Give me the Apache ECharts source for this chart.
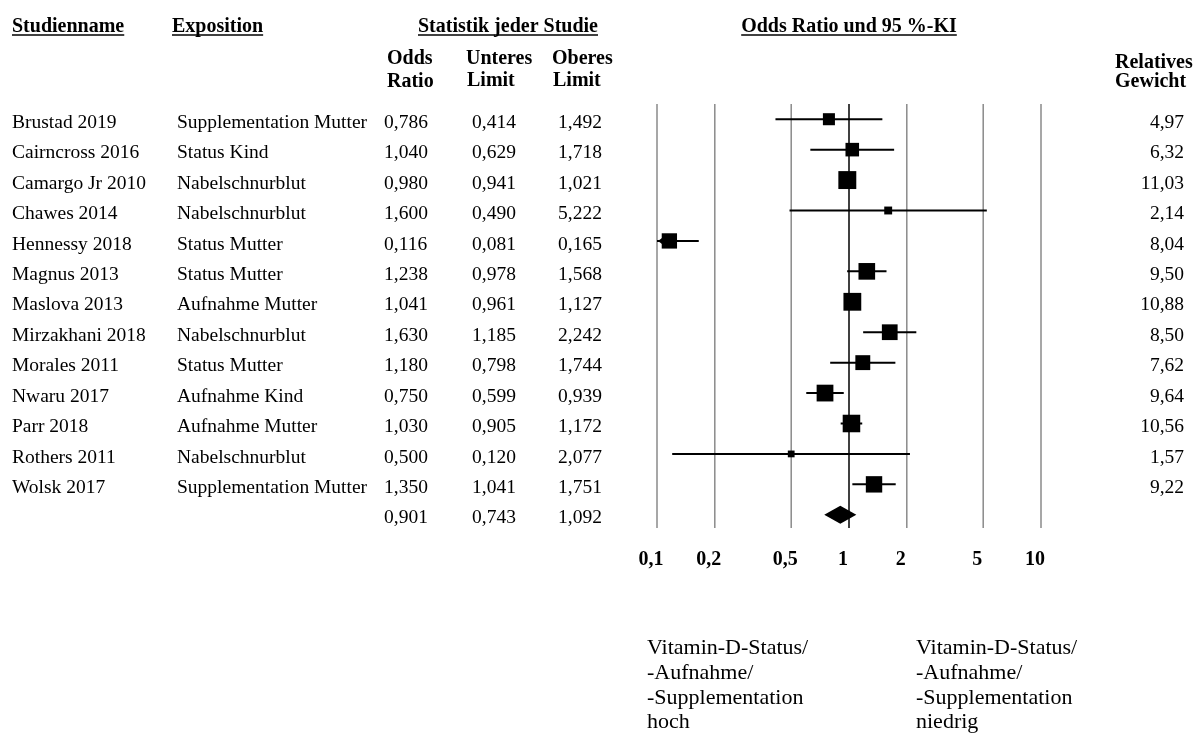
<!DOCTYPE html>
<html>
<head>
<meta charset="utf-8">
<script src="https://cdn.jsdelivr.net/npm/echarts@6/dist/echarts.min.js"></script>
<style>html,body{margin:0;padding:0;background:#fff;}#chart{width:1194px;height:736px;}</style>
</head>
<body>
<div id="chart"></div>
<script>
// ---- data ----
const studies = ['Brustad 2019','Cairncross 2016','Camargo Jr 2010','Chawes 2014','Hennessy 2018','Magnus 2013','Maslova 2013','Mirzakhani 2018','Morales 2011','Nwaru 2017','Parr 2018','Rothers 2011','Wolsk 2017'];
const exposition = ['Supplementation Mutter','Status Kind','Nabelschnurblut','Nabelschnurblut','Status Mutter','Status Mutter','Aufnahme Mutter','Nabelschnurblut','Status Mutter','Aufnahme Kind','Aufnahme Mutter','Nabelschnurblut','Supplementation Mutter'];
const oddsRatio = [0.786,1.040,0.980,1.600,0.116,1.238,1.041,1.630,1.180,0.750,1.030,0.500,1.350];
const lowerLimit = [0.414,0.629,0.941,0.490,0.081,0.978,0.961,1.185,0.798,0.599,0.905,0.120,1.041];
const upperLimit = [1.492,1.718,1.021,5.222,0.165,1.568,1.127,2.242,1.744,0.939,1.172,2.077,1.751];
const weights = [4.97,6.32,11.03,2.14,8.04,9.50,10.88,8.50,7.62,9.64,10.56,1.57,9.22];
const pooled = [0.901,0.743,1.092]; // OR, lower, upper
const xTicks = [0.1,0.2,0.5,1,2,5,10];

// ---- helpers ----
const FONT = '"Liberation Serif","Times New Roman",serif';
const fmt3 = v => v.toFixed(3).replace('.', ',');
const fmt2 = v => v.toFixed(2).replace('.', ',');
const fmtTick = v => String(v).replace('.', ',');
const measure = (t, font) => { const c = document.createElement('canvas').getContext('2d'); c.font = font; return c.measureText(t).width; };

const nRows = studies.length + 1;
const colNames = studies.concat(['']);
const colExpo = exposition.concat(['']);
const colOR = oddsRatio.concat([pooled[0]]).map(fmt3);
const colLo = lowerLimit.concat([pooled[1]]).map(fmt3);
const colHi = upperLimit.concat([pooled[2]]).map(fmt3);
const colW = weights.map(fmt2).concat(['']);

const seriesData = studies.map((s, i) => [oddsRatio[i], i, lowerLimit[i], upperLimit[i], weights[i], 0]);
seriesData.push([pooled[0], studies.length, pooled[1], pooled[2], 0, 1]);
const gridData = xTicks.map(v => [v, 0]);

const GRID = {left: 657, right: 153, top: 104, height: 426};

function colAxis(data, margin, align, position) {
  return {
    type: 'category', inverse: true, data: data,
    position: position || 'left', offset: 0,
    axisLine: {show: false}, axisTick: {show: false}, splitLine: {show: false},
    axisLabel: {interval: 0, margin: margin, align: align, verticalAlign: 'top', lineHeight: 7, fontFamily: FONT, fontSize: 19.5, color: '#000'}
  };
}

// ---- header graphics ----
const HFONT = 'bold 20px ' + FONT;
const graphics = [];
function header(text, x, y, align, underline) {
  graphics.push({type: 'text', x: x, y: y, style: {text: text, font: HFONT, fill: '#000', align: align, verticalAlign: 'middle', textAlign: align, textVerticalAlign: 'middle'}});
  if (underline) {
    const w = measure(text, HFONT);
    const x0 = align === 'center' ? x - w / 2 : (align === 'right' ? x - w : x);
    graphics.push({type: 'line', shape: {x1: x0, y1: y + 8, x2: x0 + w, y2: y + 8}, style: {stroke: '#000', lineWidth: 1.5}});
  }
}
header('Studienname', 12, 27, 'left', true);
header('Exposition', 172, 27, 'left', true);
header('Statistik jeder Studie', 508, 27, 'center', true);
header('Odds Ratio und 95 %-KI', 849, 27, 'center', true);
header('Odds', 387, 59, 'left', false);
header('Ratio', 387, 82, 'left', false);
header('Unteres', 466, 59, 'left', false);
header('Limit', 467, 81, 'left', false);
header('Oberes', 552, 59, 'left', false);
header('Limit', 553, 81, 'left', false);
header('Relatives', 1115, 63, 'left', false);
header('Gewicht', 1115, 82, 'left', false);

const BFONT = '22px ' + FONT;
graphics.push({type: 'text', x: 647, y: 636, style: {text: 'Vitamin-D-Status/\n-Aufnahme/\n-Supplementation\nhoch', font: BFONT, lineHeight: 24.7, fill: '#000', align: 'left', verticalAlign: 'top', textAlign: 'left', textVerticalAlign: 'top'}});
graphics.push({type: 'text', x: 916, y: 636, style: {text: 'Vitamin-D-Status/\n-Aufnahme/\n-Supplementation\nniedrig', font: BFONT, lineHeight: 24.7, fill: '#000', align: 'left', verticalAlign: 'top', textAlign: 'left', textVerticalAlign: 'top'}});

// ---- chart ----
const chart = echarts.init(document.getElementById('chart'), null, {renderer: 'canvas'});
chart.setOption({
  animation: false,
  backgroundColor: '#fff',
  grid: GRID,
  xAxis: {
    type: 'log', logBase: 10, min: 0.1, max: 10,
    axisLine: {show: false}, axisTick: {show: false}, splitLine: {show: false},
    axisLabel: {customValues: xTicks, formatter: v => fmtTick(v), fontFamily: FONT, fontWeight: 'bold', fontSize: 20, color: '#000', margin: 20, padding: [0, 12, 0, 0]}
  },
  yAxis: [
    colAxis(colNames, 657 - 12, 'left'),
    colAxis(colExpo, 657 - 177, 'left'),
    colAxis(colOR, 657 - 384, 'left'),
    colAxis(colLo, 657 - 472, 'left'),
    colAxis(colHi, 657 - 558, 'left'),
    colAxis(colW, 1184 - 1041, 'right', 'right')
  ],
  graphic: graphics,
  series: [{
    type: 'custom',
    xAxisIndex: 0, yAxisIndex: 0,
    clip: false,
    encode: {x: 0, y: 1},
    data: gridData,
    z: 1,
    renderItem: function (params, api) {
      const v = api.value(0);
      const x = api.coord([v, 0])[0];
      const cs = params.coordSys;
      return {type: 'line', shape: {x1: x, y1: cs.y, x2: x, y2: cs.y + cs.height - 2}, style: {stroke: v === 1 ? '#000' : '#8a8a8a', lineWidth: 1.5}};
    }
  }, {
    type: 'custom',
    xAxisIndex: 0, yAxisIndex: 0,
    clip: false,
    encode: {x: 0, y: 1},
    data: seriesData,
    z: 3,
    renderItem: function (params, api) {
      const or = api.value(0), row = api.value(1), lo = api.value(2), hi = api.value(3), w = api.value(4), isSum = api.value(5);
      const p = api.coord([or, row]);
      const y = p[1];
      const xOr = p[0];
      const xLo = api.coord([lo, row])[0];
      const xHi = api.coord([hi, row])[0];
      const xMin = api.coord([0.1, row])[0];
      if (isSum) {
        return {type: 'polygon', shape: {points: [[xLo, y], [xOr, y - 9], [xHi, y], [xOr, y + 9]]}, style: {fill: '#000'}};
      }
      const s = 5.4 * Math.sqrt(w);
      const children = [
        {type: 'line', shape: {x1: Math.max(xLo, xMin), y1: y, x2: xHi, y2: y}, style: {stroke: '#000', lineWidth: 2}},
        {type: 'rect', shape: {x: xOr - s / 2, y: y - s / 2, width: s, height: s}, style: {fill: '#000'}}
      ];
      if (xLo < xMin) {
        children.push({type: 'polygon', shape: {points: [[xMin + 1, y], [xMin + 7, y - 4.5], [xMin + 7, y + 4.5]]}, style: {fill: '#000'}});
      }
      return {type: 'group', children: children};
    }
  }]
});
</script>
</body>
</html>
